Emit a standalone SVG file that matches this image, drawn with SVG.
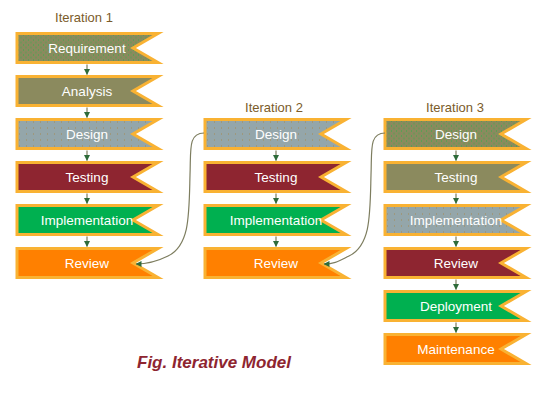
<svg xmlns="http://www.w3.org/2000/svg" width="540" height="403" viewBox="0 0 540 403">
<defs>
<style>
.box{stroke:#F9B233;stroke-width:3;stroke-linejoin:miter}
.lbl{font-family:"Liberation Sans","DejaVu Sans",sans-serif;font-size:13.5px;fill:#ffffff;text-anchor:middle}
.ttl{font-family:"Liberation Sans","DejaVu Sans",sans-serif;font-size:13px;fill:#7B5B2A;text-anchor:middle}
.olive{fill:#8B8A5E}
.oliveDot{fill:url(#dotG)}
.gray{fill:url(#dotB)}
.red{fill:#8E2530}
.green{fill:#00B050}
.orange{fill:#FF8000}
.arr{stroke:#7D7D5F;stroke-width:1.2;fill:none;marker-end:url(#ah)}
.cur{stroke:#7D7D5F;stroke-width:1.2;fill:none;marker-end:url(#ah)}
.cap{font-family:"Liberation Sans","DejaVu Sans",sans-serif;font-size:17px;font-weight:bold;font-style:italic;fill:#8E2530;text-anchor:middle}
</style>
<pattern id="dotG" width="5" height="5" patternUnits="userSpaceOnUse">
<rect width="5" height="5" fill="#8B8A5E"/>
<rect x="1" y="1" width="1" height="1" fill="#2DB34A"/>
<rect x="3.5" y="3.5" width="1" height="1" fill="#2DB34A"/>
</pattern>
<pattern id="dotB" width="7" height="6" patternUnits="userSpaceOnUse">
<rect width="7" height="6" fill="#94A6AA"/>
<rect x="2" y="2" width="1" height="1" fill="#A68A52"/>
</pattern>
<marker id="ah" viewBox="0 0 6 6" refX="5.5" refY="3" markerWidth="6" markerHeight="6" orient="auto" markerUnits="userSpaceOnUse">
<path d="M0,0 L6,3 L0,6 Z" fill="#2E6B3A"/>
</marker>
<path id="shape" d="M0,0 H141 L116,14.5 L141,29 H0 Z"/>
</defs>
<rect width="540" height="403" fill="#ffffff"/>

<text class="ttl" x="84" y="22">Iteration 1</text>
<text class="ttl" x="274" y="112">Iteration 2</text>
<text class="ttl" x="455" y="112">Iteration 3</text>

<g id="i1-requirement"><use href="#shape" class="box oliveDot" x="17" y="33.5"/><text class="lbl" x="87" y="53">Requirement</text></g>
<g id="i1-analysis"><use href="#shape" class="box olive" x="17" y="76.5"/><text class="lbl" x="87" y="96">Analysis</text></g>
<g id="i1-design"><use href="#shape" class="box gray" x="17" y="119.5"/><text class="lbl" x="87" y="139">Design</text></g>
<g id="i1-testing"><use href="#shape" class="box red" x="17" y="162.5"/><text class="lbl" x="87" y="182">Testing</text></g>
<g id="i1-implementation"><use href="#shape" class="box green" x="17" y="205.5"/><text class="lbl" x="87" y="225">Implementation</text></g>
<g id="i1-review"><use href="#shape" class="box orange" x="17" y="248.5"/><text class="lbl" x="87" y="268">Review</text></g>

<g id="i2-design"><use href="#shape" class="box gray" x="205" y="119.5"/><text class="lbl" x="276" y="139">Design</text></g>
<g id="i2-testing"><use href="#shape" class="box red" x="205" y="162.5"/><text class="lbl" x="276" y="182">Testing</text></g>
<g id="i2-implementation"><use href="#shape" class="box green" x="205" y="205.5"/><text class="lbl" x="276" y="225">Implementation</text></g>
<g id="i2-review"><use href="#shape" class="box orange" x="205" y="248.5"/><text class="lbl" x="276" y="268">Review</text></g>

<g id="i3-design"><use href="#shape" class="box oliveDot" x="385" y="119.5"/><text class="lbl" x="456" y="139">Design</text></g>
<g id="i3-testing"><use href="#shape" class="box olive" x="385" y="162.5"/><text class="lbl" x="456" y="182">Testing</text></g>
<g id="i3-implementation"><use href="#shape" class="box gray" x="385" y="205.5"/><text class="lbl" x="456" y="225">Implementation</text></g>
<g id="i3-review"><use href="#shape" class="box red" x="385" y="248.5"/><text class="lbl" x="456" y="268">Review</text></g>
<g id="i3-deployment"><use href="#shape" class="box green" x="385" y="291.5"/><text class="lbl" x="456" y="311">Deployment</text></g>
<g id="i3-maintenance"><use href="#shape" class="box orange" x="385" y="334.5"/><text class="lbl" x="456" y="354">Maintenance</text></g>

<g id="connectors">
<path class="arr" d="M87,64.5 V74.5"/>
<path class="arr" d="M87,107.5 V117.5"/>
<path class="arr" d="M87,150.5 V160.5"/>
<path class="arr" d="M87,193.5 V203.5"/>
<path class="arr" d="M87,236.5 V246.5"/>
<path class="arr" d="M276,150.5 V160.5"/>
<path class="arr" d="M276,193.5 V203.5"/>
<path class="arr" d="M276,236.5 V246.5"/>
<path class="arr" d="M456,150.5 V160.5"/>
<path class="arr" d="M456,193.5 V203.5"/>
<path class="arr" d="M456,236.5 V246.5"/>
<path class="arr" d="M456,279.5 V289.5"/>
<path class="arr" d="M456,322.5 V332.5"/>
<path class="cur" d="M204,133 C188,133 191,150 190,175 C189,215 190,245 168,256 C158,261 147,264 136,264"/>
<path class="cur" d="M385,133 C369,133 372,150 371,175 C370,215 371,245 349,256 C339,261 335,264 324,264"/>
</g>

<text class="cap" x="214" y="368">Fig. Iterative Model</text>
</svg>
